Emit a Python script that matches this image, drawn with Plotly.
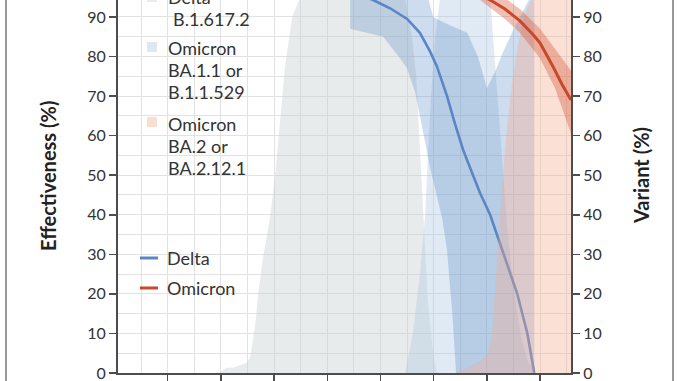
import plotly.graph_objects as go

# ---------------- data (x in time units, ticks at 1..8; tick labels cropped) ----------------
x_ticks = [1, 2, 3, 4, 5, 6, 7, 8]
x_tick_labels = ["", "", "", "", "", "", "", ""]
y_ticks = [0, 10, 20, 30, 40, 50, 60, 70, 80, 90]

# Variant proportions (%)
delta_var_x = [1.95, 2.11, 2.23, 2.49, 2.55, 2.60, 2.66, 2.70, 2.79, 2.92, 3.02, 3.09, 3.21,
               3.34, 3.49, 3.77, 5.18, 5.46, 5.59, 5.67, 5.72, 5.76, 5.82, 5.89, 5.99, 6.06]
delta_var_y = [0, 1.3, 1.3, 2.6, 4, 8, 14, 20, 29, 39, 50, 61, 78,
               90, 95, 97.5, 97.5, 95, 85, 75, 62, 50, 35, 18, 5, 0]

ba1_x = [5.46, 5.61, 5.74, 5.84, 5.89, 5.95, 6.03, 6.12, 6.31, 6.97, 7.06, 7.19, 7.29,
         7.38, 7.47, 7.57, 7.66, 7.77, 7.91]
ba1_y = [0, 10, 25, 40, 55, 70, 85, 95, 98, 98, 95, 72, 52,
         37, 25, 15, 8, 3, 0]

ba2_x = [6.40, 6.59, 6.87, 7.02, 7.10, 7.15, 7.21, 7.30, 7.38, 7.47, 7.57, 7.66, 7.76,
         7.91, 8.19, 8.58]
ba2_y = [0, 1, 3, 5, 10, 20, 31, 50, 62, 73, 82, 88, 92.5,
         96, 97.5, 98]

# Vaccine effectiveness (%) against Delta
delta_ve_x = [4.43, 4.86, 5.18, 5.50, 5.74, 5.93, 6.06, 6.25, 6.40, 6.55, 6.65, 6.87, 7.06,
              7.29, 7.44, 7.57, 7.76, 7.89]
delta_ve_y = [96.5, 94.3, 92.2, 89.5, 86, 81.3, 77.5, 70, 63, 56.5, 53, 45.5, 40,
              31, 25.5, 20, 10, 0]
delta_ci_up_x = [4.43, 5.74, 5.89, 5.99, 6.21, 6.63, 6.83, 7.00, 7.15, 7.30, 7.47, 7.62, 7.77, 7.89]
delta_ci_up_y = [100, 100, 95, 90, 88.5, 86, 80, 72, 76, 81, 86, 90, 94, 97]
delta_ci_lo_x = [4.43, 5.05, 5.37, 5.50, 5.65, 5.80, 5.93, 6.06, 6.16, 6.25, 6.35, 6.42, 7.89]
delta_ci_lo_y = [87, 85, 79.5, 77, 71, 61, 52, 45, 39, 31, 15, 0, 0]

# Vaccine effectiveness (%) against Omicron
omi_ve_x = [6.12, 6.59, 6.87, 7.06, 7.34, 7.62, 7.87, 8.00, 8.24, 8.41, 8.58]
omi_ve_y = [98.5, 96.8, 95.5, 94.3, 92, 89, 85.5, 83.4, 77.5, 73, 69]
omi_ci_up_x = [6.12, 7.06, 7.34, 7.62, 8.00, 8.28, 8.58]
omi_ci_up_y = [100, 96.8, 94.8, 92, 87, 82, 76.5]
omi_ci_lo_x = [6.12, 6.87, 7.06, 7.34, 7.62, 8.00, 8.28, 8.58]
omi_ci_lo_y = [97.5, 94.3, 92.3, 89.5, 86, 79.5, 72, 60.5]

area_labels = [["Delta", "B.1.617.2"], ["Omicron", "BA.1.1 or", "B.1.1.529"],
               ["Omicron", "BA.2 or", "BA.2.12.1"]]
line_labels = ["Delta", "Omicron"]

# ---------------- styles ----------------
FONT = "Lato"
TXT = "#333333"
AX = "#4d4d4d"
GRID = "#e2e2e2"
BLUE = "#5a86c5"
RED = "#c8482a"
GRAY_FILL = "rgba(200,207,207,0.42)"
BA1_FILL = "rgba(170,198,225,0.36)"
BA2_FILL = "rgba(245,170,140,0.36)"
BLUE_BAND = "rgba(91,138,200,0.30)"
RED_BAND = "rgba(215,90,60,0.38)"

X0, X1 = 0.066, 8.58
Y0, Y_TOP = 0, 94.29

fig = go.Figure()

fig.add_trace(go.Scatter(x=delta_var_x, y=delta_var_y, mode="lines", fill="tozeroy",
                         fillcolor=GRAY_FILL, line=dict(width=0), showlegend=False,
                         hoverinfo="skip"))
fig.add_trace(go.Scatter(x=ba1_x, y=ba1_y, mode="lines", fill="tozeroy",
                         fillcolor=BA1_FILL, line=dict(width=0), showlegend=False,
                         hoverinfo="skip"))
fig.add_trace(go.Scatter(x=delta_ci_up_x + delta_ci_lo_x[::-1],
                         y=delta_ci_up_y + delta_ci_lo_y[::-1], mode="lines", fill="toself",
                         fillcolor=BLUE_BAND, line=dict(width=0), showlegend=False,
                         hoverinfo="skip"))
fig.add_trace(go.Scatter(x=delta_ve_x, y=delta_ve_y, mode="lines",
                         line=dict(color=BLUE, width=2.6), showlegend=False))
fig.add_trace(go.Scatter(x=ba2_x, y=ba2_y, mode="lines", fill="tozeroy",
                         fillcolor=BA2_FILL, line=dict(width=0), showlegend=False,
                         hoverinfo="skip"))
fig.add_trace(go.Scatter(x=omi_ci_up_x + omi_ci_lo_x[::-1],
                         y=omi_ci_up_y + omi_ci_lo_y[::-1], mode="lines", fill="toself",
                         fillcolor=RED_BAND, line=dict(width=0), showlegend=False,
                         hoverinfo="skip"))
fig.add_trace(go.Scatter(x=omi_ve_x, y=omi_ve_y, mode="lines",
                         line=dict(color=RED, width=3), showlegend=False))
# right (variant %) axis carrier
fig.add_trace(go.Scatter(x=[], y=[], yaxis="y2", showlegend=False, hoverinfo="skip"))

W, H = 678, 381
ML, MR, MT, MB = 118, 107, 0, 8
PW, PH = W - ML - MR, H - MT - MB


def px(xp):
    return (xp - ML) / PW


def py(yp):
    return (H - MB - yp) / PH


tickfont = dict(family=FONT, size=16, color=TXT)
fig.update_layout(
    width=W, height=H,
    margin=dict(l=ML, r=MR, t=MT, b=MB, pad=0),
    paper_bgcolor="white", plot_bgcolor="white",
    xaxis=dict(range=[X0, X1], tickmode="array", tickvals=x_ticks, ticktext=x_tick_labels,
               showticklabels=False, ticks="outside", ticklen=8, tickwidth=1.5, tickcolor=AX,
               showline=True, linecolor=AX, linewidth=2, showgrid=True, gridcolor=GRID,
               gridwidth=1, zeroline=False,
               minor=dict(dtick=0.5, tick0=0, showgrid=True, gridcolor=GRID, gridwidth=1,
                          ticks="")),
    yaxis=dict(range=[Y0, Y_TOP], tickmode="array", tickvals=y_ticks,
               ticks="outside", ticklen=7, tickwidth=1.5, tickcolor=AX, tickfont=tickfont,
               ticklabeloverflow="allow",
               showline=True, linecolor=AX, linewidth=2, showgrid=True, gridcolor=GRID,
               gridwidth=1, zeroline=False,
               minor=dict(dtick=5, tick0=0, showgrid=True, gridcolor=GRID, gridwidth=1,
                          ticks="")),
    yaxis2=dict(range=[Y0, Y_TOP], overlaying="y", side="right", tickmode="array",
                tickvals=y_ticks, ticks="outside", ticklen=7, tickwidth=1.5, tickcolor=AX,
                tickfont=tickfont, ticklabeloverflow="allow",
                showline=True, linecolor=AX, linewidth=2,
                showgrid=False, zeroline=False),
    showlegend=False,
)

ann = []
titlefont = dict(family=FONT, size=20, color="#222")
ann.append(dict(text="<b>Effectiveness (%)</b>", x=px(48), y=py(176), xref="paper", yref="paper",
                xanchor="center", yanchor="middle",
                textangle=-90, showarrow=False, font=titlefont))
ann.append(dict(text="<b>Variant (%)</b>", x=px(641), y=py(176), xref="paper", yref="paper",
                xanchor="center", yanchor="middle",
                textangle=-90, showarrow=False, font=titlefont))

legfont = dict(family=FONT, size=18, color=TXT)
area_line_pos = [[(166, -3.5), (171, 18.5)], [(166, 48.3), (166, 70), (166, 92)],
                 [(166, 123.5), (166, 146), (166, 168)]]
for labels, poss in zip(area_labels, area_line_pos):
    for t, (xp, yp) in zip(labels, poss):
        ann.append(dict(text=t, x=px(xp), y=py(yp), xref="paper", yref="paper",
                        xanchor="left", yanchor="middle", showarrow=False, font=legfont))
for t, yp in zip(line_labels, [258, 288]):
    ann.append(dict(text=t, x=px(165), y=py(yp), xref="paper", yref="paper",
                    xanchor="left", yanchor="middle", showarrow=False, font=legfont))
fig.update_layout(annotations=ann)

shapes = []
for col, yc in zip(["rgb(233,236,236)", "rgb(222,232,242)", "rgb(250,222,210)"], [-3, 47, 122]):
    shapes.append(dict(type="rect", xref="paper", yref="paper", x0=px(147), x1=px(157),
                       y0=py(yc + 5), y1=py(yc - 5), fillcolor=col, line=dict(width=0)))
for col, yc in zip([BLUE, RED], [258, 288]):
    shapes.append(dict(type="line", xref="paper", yref="paper", x0=px(140), x1=px(158),
                       y0=py(yc), y1=py(yc), line=dict(color=col, width=3)))
for xp in [6, 673]:
    shapes.append(dict(type="line", xref="paper", yref="paper", x0=px(xp), x1=px(xp),
                       y0=py(H + 5), y1=py(-5), line=dict(color="#777777", width=1.5)))
fig.update_layout(shapes=shapes)

fig.write_html("out.html", config={"displayModeBar": False, "staticPlot": True},
               post_script="document.body.style.margin='0px';document.body.style.overflow='hidden';")
